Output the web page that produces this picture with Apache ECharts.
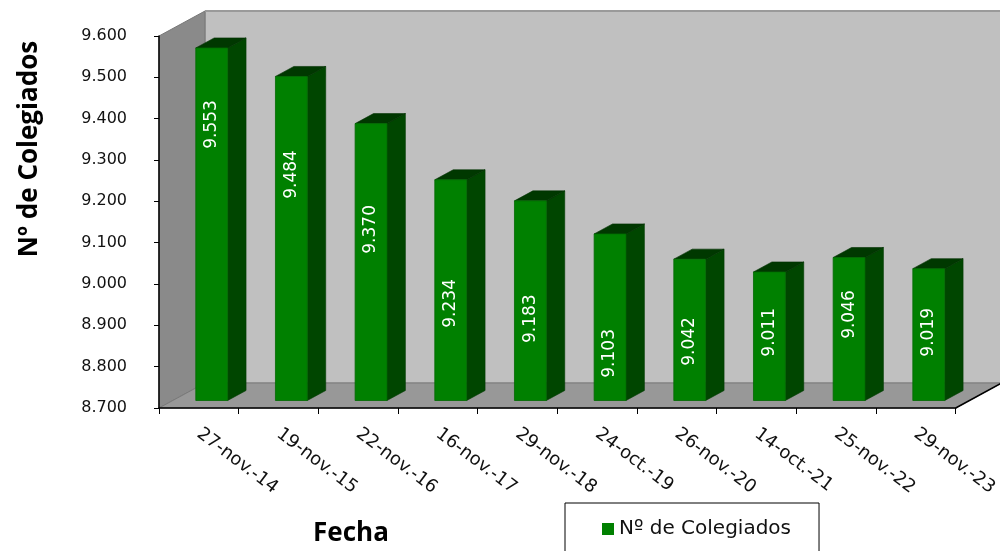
<!DOCTYPE html>
<html>
<head>
<meta charset="utf-8">
<script src="https://cdn.jsdelivr.net/npm/echarts@6/dist/echarts.min.js"></script>
<style>html,body{margin:0;padding:0;background:#fff}#c{width:1000px;height:551px}</style>
</head>
<body>
<div id="c"></div>
<script>
// ---- data ----
const categories = ['27-nov.-14','19-nov.-15','22-nov.-16','16-nov.-17','29-nov.-18','24-oct.-19','26-nov.-20','14-oct.-21','25-nov.-22','29-nov.-23'];
const colegiados = [9553, 9484, 9370, 9234, 9183, 9103, 9042, 9011, 9046, 9019];
// value (axis units) at which each inner label is centred
const labelAnchor = [9368, 9247, 9114, 8935, 8898, 8814, 8843, 8865, 8908, 8865];
const yMin = 8700, yMax = 9600, yStep = 100;
const seriesName = 'Nº de Colegiados';

// ---- style constants ----
const DEPTH = [46, -25];      // 3D depth vector in px
const BAR_W = 0.4;            // share of band
const FONT = 'DejaVu Sans';

function fmt(v) {
  const s = String(Math.round(v));
  return s.length > 3 ? s.slice(0, s.length - 3) + '.' + s.slice(-3) : s;
}

const chart = echarts.init(document.getElementById('c'), null, {renderer: 'canvas'});

function renderWalls(params, api) {
  const cs = params.coordSys;
  const dx = DEPTH[0], dy = DEPTH[1];
  const x0 = cs.x, y0 = cs.y, x1 = cs.x + cs.width, y1 = cs.y + cs.height;
  return {
    type: 'group',
    children: [
      {type: 'polygon', shape: {points: [[x0 + dx, y0 + dy], [x1 + dx, y0 + dy], [x1 + dx, y1 + dy], [x0 + dx, y1 + dy]]},
       style: {fill: '#c0c0c0', stroke: '#8c8c8c', lineWidth: 1}},
      {type: 'polygon', shape: {points: [[x0, y0], [x0 + dx, y0 + dy], [x0 + dx, y1 + dy], [x0, y1]]},
       style: {fill: '#8a8a8a', stroke: '#777777', lineWidth: 1}},
      {type: 'polygon', shape: {points: [[x0, y1], [x0 + dx, y1 + dy], [x1 + dx, y1 + dy], [x1, y1]]},
       style: {fill: '#989898', stroke: '#7a7a7a', lineWidth: 1}},
      {type: 'line', shape: {x1: x1, y1: y1, x2: x1 + dx, y2: y1 + dy}, style: {stroke: '#000', lineWidth: 1.5}},
      {type: 'line', shape: {x1: x0 + dx, y1: y0 + dy, x2: x1 + dx, y2: y0 + dy}, style: {stroke: '#9a9a9a', lineWidth: 2}}
    ]
  };
}

function renderBar(params, api) {
  const i = api.value(0);
  const v = api.value(1);
  const band = api.size([1, 0])[0];
  const w = band * BAR_W;
  const base = api.coord([i, yMin]);
  const top = api.coord([i, v]);
  const ox = DEPTH[0] * 0.28, oy = DEPTH[1] * 0.3;
  const dx = DEPTH[0] * 0.4, dy = DEPTH[1] * 0.4;
  const xl = base[0] + ox - w / 2, xr = xl + w;
  const yb = base[1] + oy, yt = top[1] + oy;
  const ly = api.coord([i, labelAnchor[i]])[1] + oy;
  return {
    type: 'group',
    children: [
      {type: 'polygon', shape: {points: [[xr, yt], [xr + dx, yt + dy], [xr + dx, yb + dy], [xr, yb]]},
       style: {fill: '#004600', stroke: '#003a00', lineWidth: 0.6}},
      {type: 'polygon', shape: {points: [[xl, yt], [xl + dx, yt + dy], [xr + dx, yt + dy], [xr, yt]]},
       style: {fill: '#003800', stroke: '#003000', lineWidth: 0.6}},
      {type: 'rect', shape: {x: xl, y: yt, width: w, height: yb - yt},
       style: {fill: '#008000', stroke: '#006a00', lineWidth: 0.8}},
      {type: 'text', x: (xl + xr) / 2, y: ly, rotation: Math.PI / 2,
       style: {text: fmt(v), fill: '#ffffff', font: '17px "' + FONT + '"', align: 'center', verticalAlign: 'middle'}}
    ]
  };
}

const option = {
  backgroundColor: '#ffffff',
  animation: false,
  grid: {left: 159, top: 36, right: 34, bottom: 143, containLabel: false},
  legend: {
    data: [seriesName],
    left: 565, top: 503,
    orient: 'horizontal',
    backgroundColor: '#fff',
    borderColor: '#000', borderWidth: 1,
    padding: [16, 28, 40, 37],
    icon: 'rect', itemWidth: 12, itemHeight: 12, itemGap: 6,
    textStyle: {fontFamily: FONT, fontSize: 20, color: '#111'}
  },
  xAxis: {
    type: 'category',
    data: categories,
    boundaryGap: true,
    z: 10,
    axisLine: {show: true, lineStyle: {color: '#000', width: 1.5}},
    axisTick: {show: true, length: 6, interval: 0, lineStyle: {color: '#000', width: 1}},
    axisLabel: {interval: 0, rotate: -37, margin: 24, fontFamily: FONT, fontSize: 18, color: '#111'},
    splitLine: {show: false}
  },
  yAxis: {
    type: 'value',
    min: yMin, max: yMax, interval: yStep,
    z: 10,
    axisLine: {show: true, lineStyle: {color: '#000', width: 1.5}},
    axisTick: {show: true, length: 5, lineStyle: {color: '#000', width: 1}},
    axisLabel: {margin: 32, fontFamily: FONT, fontSize: 16, color: '#111', formatter: v => fmt(v)},
    splitLine: {show: false}
  },
  graphic: [
    {type: 'text', x: 30, y: 149, rotation: Math.PI / 2,
     style: {text: 'Nº de Colegiados', font: 'bold 26px "Open Sans"', fill: '#000', align: 'center', verticalAlign: 'middle'}},
    {type: 'text', x: 351, y: 534,
     style: {text: 'Fecha', font: 'bold 26px "Open Sans"', fill: '#000', align: 'center', verticalAlign: 'middle'}}
  ],
  series: [
    {name: 'walls', type: 'custom', z: 1, silent: true, clip: false,
     renderItem: renderWalls, data: [[0, yMin]], encode: {x: 0, y: 1}},
    {name: seriesName, type: 'custom', z: 3, clip: false,
     itemStyle: {color: '#008000'},
     renderItem: renderBar,
     data: colegiados.map((v, i) => [i, v]),
     encode: {x: 0, y: 1}}
  ]
};
chart.setOption(option);
</script>
</body>
</html>
